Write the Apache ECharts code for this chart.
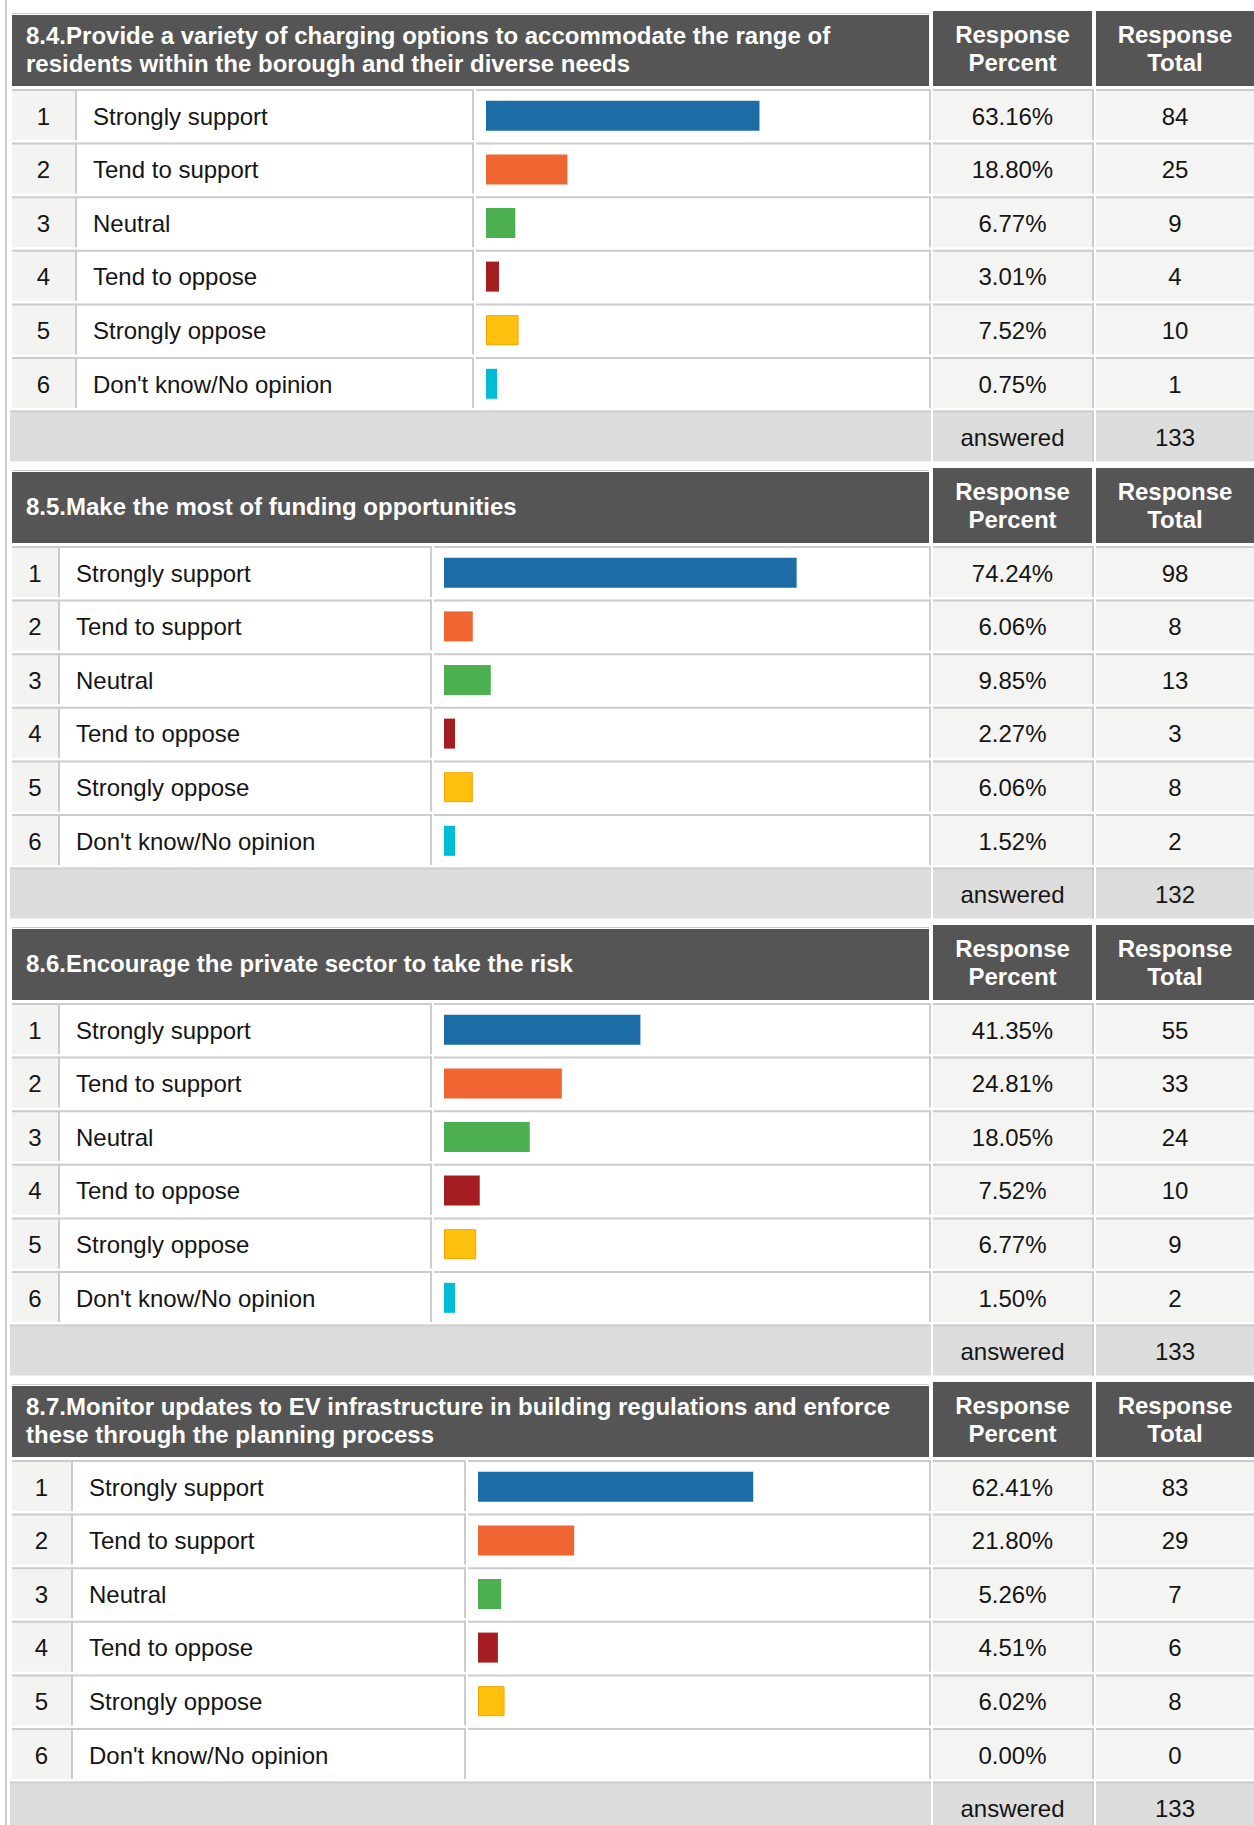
<!DOCTYPE html>
<html>
<head>
<meta charset="utf-8">
<script src="https://cdn.jsdelivr.net/npm/echarts@6/dist/echarts.min.js"></script>
<style>
  html, body { margin: 0; padding: 0; background: #ffffff; }
  #chart { width: 1254px; height: 1825px; }
</style>
</head>
<body>
<div id="chart"></div>
<script>
// ---- Survey results ----
const categories = ['Strongly support', 'Tend to support', 'Neutral', 'Tend to oppose', 'Strongly oppose', "Don't know/No opinion"];

const questions = [
  '8.4.Provide a variety of charging options to accommodate the range of\nresidents within the borough and their diverse needs',
  '8.5.Make the most of funding opportunities',
  '8.6.Encourage the private sector to take the risk',
  '8.7.Monitor updates to EV infrastructure in building regulations and enforce\nthese through the planning process'
];

const percent84 = [63.16, 18.80, 6.77, 3.01, 7.52, 0.75];
const total84 = [84, 25, 9, 4, 10, 1];

const percent85 = [74.24, 6.06, 9.85, 2.27, 6.06, 1.52];
const total85 = [98, 8, 13, 3, 8, 2];

const percent86 = [41.35, 24.81, 18.05, 7.52, 6.77, 1.50];
const total86 = [55, 33, 24, 10, 9, 2];

const percent87 = [62.41, 21.80, 5.26, 4.51, 6.02, 0.00];
const total87 = [83, 29, 7, 6, 8, 0];

const answeredTotals = [133, 132, 133, 133];

const headerPercent = 'Response\nPercent';
const headerTotal = 'Response\nTotal';
const answeredLabel = 'answered';

const sectionPercents = [percent84, percent85, percent86, percent87];
const sectionTotals = [total84, total85, total86, total87];

// ---- Styling and layout ----
const barColors = ['#1c6ca5', '#f06633', '#4caf50', '#a41d21', '#ffc10e', '#00bcd4'];
const barBorders = [null, null, null, null, '#f4a300', null];

const FONT = '"Liberation Sans", Arial, Helvetica, sans-serif';
const TEXT = '#151515';
const GRID_LINE = '#cccccc';
const HEADER_BG = '#555555';
const NUM_BG = '#f3f3f1';
const VALUE_BG = '#f4f4f2';
const ANSWERED_BG = '#dddddd';

const SECTION_TOP = 15;
const SECTION_STEP = 457;
const HEADER_H = 71;
const ROW_OFFSET = 74;
const ROW_H = 53.6;
const CELL_H = 51;

const PCT_COL = [933, 1094];
const TOT_COL = [1096, 1256];

// column splits of the left part of each table: number, label, bar cells
const columnSets = [
  { num: [12, 77], label: [77, 474], bar: [476, 931] },
  { num: [12, 60], label: [60, 432], bar: [434, 931] },
  { num: [12, 60], label: [60, 432], bar: [434, 931] },
  { num: [12, 73], label: [73, 466], bar: [468, 931] }
];

const graphics = [];

function rect(x, y, w, h, fill) {
  graphics.push({ type: 'rect', silent: true, shape: { x: x, y: y, width: w, height: h }, style: { fill: fill } });
}

function text(x, y, str, opts) {
  graphics.push({
    type: 'text', silent: true, x: x, y: y,
    style: Object.assign({
      text: str, fill: TEXT, font: '24px ' + FONT, fontSize: 24, fontFamily: FONT,
      textAlign: 'left', textVerticalAlign: 'middle', verticalAlign: 'middle'
    }, opts || {})
  });
}

function cell(x0, x1, y0, fill, rightBorder) {
  rect(x0, y0, x1 - x0, CELL_H, fill);
  rect(x0, y0, x1 - x0, 2, GRID_LINE);
  if (rightBorder) rect(x1 - 2, y0, 2, CELL_H, GRID_LINE);
}

// outer left border of the tables
rect(5, 0, 2, 1825, GRID_LINE);

const grids = [];
const xAxes = [];
const yAxes = [];
const series = [];

questions.forEach(function (q, s) {
  const T = SECTION_TOP + s * SECTION_STEP;
  const cols = columnSets[s];
  const pcts = sectionPercents[s];
  const tots = sectionTotals[s];

  // header row
  rect(12, T - 2, 917, 1, GRID_LINE);
  rect(12, T, 917, HEADER_H, HEADER_BG);
  rect(PCT_COL[0], T - 4, PCT_COL[1] - 2 - PCT_COL[0], HEADER_H + 4, HEADER_BG);
  rect(TOT_COL[0], T - 4, TOT_COL[1] - TOT_COL[0], HEADER_H + 4, HEADER_BG);
  text(26, T + HEADER_H / 2 - 1, q, { fill: '#ffffff', fontWeight: 'bold', font: 'bold 24px ' + FONT, lineHeight: 28 });
  text((PCT_COL[0] + PCT_COL[1] - 2) / 2, T + HEADER_H / 2 - 2, headerPercent,
    { fill: '#ffffff', fontWeight: 'bold', font: 'bold 24px ' + FONT, lineHeight: 28, textAlign: 'center', align: 'center' });
  text((TOT_COL[0] + 1254) / 2, T + HEADER_H / 2 - 2, headerTotal,
    { fill: '#ffffff', fontWeight: 'bold', font: 'bold 24px ' + FONT, lineHeight: 28, textAlign: 'center', align: 'center' });

  const bodyTop = T + ROW_OFFSET;

  // answer rows
  categories.forEach(function (cat, i) {
    const y0 = bodyTop + i * ROW_H;
    const cy = y0 + 27;
    cell(cols.num[0], cols.num[1], y0, NUM_BG, true);
    cell(cols.label[0], cols.label[1], y0, '#ffffff', true);
    cell(cols.bar[0], cols.bar[1], y0, '#ffffff', true);
    cell(PCT_COL[0], PCT_COL[1], y0, VALUE_BG, true);
    cell(TOT_COL[0], TOT_COL[1], y0, VALUE_BG, false);
    text((cols.num[0] + cols.num[1] - 2) / 2, cy, String(i + 1), { textAlign: 'center', align: 'center' });
    text(cols.label[0] + 16, cy, cat);
    text((PCT_COL[0] + PCT_COL[1] - 2) / 2, cy, pcts[i].toFixed(2) + '%', { textAlign: 'center', align: 'center' });
    text((TOT_COL[0] + 1254) / 2, cy, String(tots[i]), { textAlign: 'center', align: 'center' });
  });

  // answered row
  const ya = bodyTop + 6 * ROW_H;
  rect(10, ya, 921, CELL_H, ANSWERED_BG);
  rect(10, ya, 921, 2, '#d0d0d0');
  cell(PCT_COL[0], PCT_COL[1], ya, ANSWERED_BG, true);
  cell(TOT_COL[0], TOT_COL[1], ya, ANSWERED_BG, false);
  text((PCT_COL[0] + PCT_COL[1] - 2) / 2, ya + 27, answeredLabel, { textAlign: 'center', align: 'center' });
  text((TOT_COL[0] + 1254) / 2, ya + 27, String(answeredTotals[s]), { textAlign: 'center', align: 'center' });

  // bar area inside the bar cell
  const innerLeft = cols.bar[0] + 10;
  const innerWidth = (cols.bar[1] - 2 - cols.bar[0]) - 20;
  grids.push({ left: innerLeft, top: bodyTop, width: innerWidth, height: 6 * ROW_H, containLabel: false });
  xAxes.push({ type: 'value', gridIndex: s, min: 0, max: 100, show: false });
  yAxes.push({ type: 'category', gridIndex: s, data: categories, inverse: true, show: false });
  series.push({
    type: 'bar',
    xAxisIndex: s,
    yAxisIndex: s,
    barWidth: 30,
    // small non-zero shares still get a visible sliver; a zero share draws nothing
    barMinHeight: 11,
    silent: true,
    data: pcts.map(function (v, i) {
      return {
        value: v > 0 ? v : '-',
        itemStyle: {
          color: barColors[i],
          borderColor: barBorders[i] || barColors[i],
          borderWidth: barBorders[i] ? 1 : 0
        }
      };
    })
  });
});

const chart = echarts.init(document.getElementById('chart'), null, { renderer: 'svg', width: 1254, height: 1825 });
chart.setOption({
  animation: false,
  backgroundColor: '#ffffff',
  textStyle: { fontFamily: FONT },
  grid: grids,
  xAxis: xAxes,
  yAxis: yAxes,
  graphic: { elements: graphics },
  series: series
});
</script>
</body>
</html>
